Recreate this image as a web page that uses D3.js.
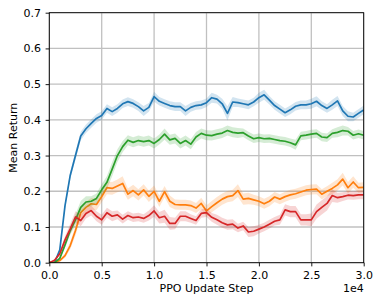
<!DOCTYPE html>
<html>
<head>
<meta charset="utf-8">
<script src="https://cdn.jsdelivr.net/npm/d3@7"></script>
<style>
  body { margin: 0; background: #fff; }
  text { font-family: "DejaVu Sans", sans-serif; }
</style>
</head>
<body>
<div id="chart"></div>
<script>
(function(){

  // PPO update steps, every 500
  var steps = [0,500,1000,1500,2000,2500,3000,3500,4000,4500,5000,5500,6000,6500,7000,7500,8000,8500,9000,9500,
    10000,10500,11000,11500,12000,12500,13000,13500,14000,14500,15000,15500,16000,16500,17000,17500,18000,18500,19000,19500,
    20000,20500,21000,21500,22000,22500,23000,23500,24000,24500,25000,25500,26000,26500,27000,27500,28000,28500,29000,29500,30000];

  var blue = [0,0,0.036,0.16,0.245,0.30,0.355,0.375,0.39,0.404,0.412,0.432,0.423,0.432,0.445,0.451,0.446,0.437,0.425,0.435,
    0.465,0.452,0.446,0.44,0.437,0.437,0.425,0.435,0.44,0.442,0.448,0.462,0.458,0.445,0.418,0.45,0.448,0.445,0.442,0.45,
    0.462,0.47,0.455,0.44,0.43,0.42,0.428,0.438,0.442,0.442,0.445,0.452,0.44,0.432,0.442,0.453,0.425,0.41,0.408,0.418,0.428];
  var orange = [0,0,0.006,0.02,0.048,0.09,0.14,0.155,0.165,0.163,0.185,0.21,0.208,0.215,0.222,0.192,0.202,0.19,0.204,0.186,
    0.2,0.172,0.199,0.172,0.163,0.162,0.162,0.16,0.153,0.166,0.145,0.157,0.168,0.178,0.185,0.188,0.202,0.178,0.18,0.176,
    0.172,0.165,0.172,0.184,0.178,0.185,0.19,0.193,0.198,0.203,0.205,0.206,0.192,0.2,0.208,0.218,0.234,0.21,0.226,0.21,0.211];
  var green = [0,0,0.012,0.05,0.09,0.12,0.155,0.17,0.172,0.18,0.204,0.225,0.262,0.3,0.325,0.343,0.337,0.342,0.339,0.342,
    0.334,0.345,0.36,0.344,0.348,0.334,0.342,0.332,0.352,0.362,0.357,0.356,0.36,0.363,0.37,0.365,0.363,0.364,0.355,0.347,
    0.35,0.347,0.348,0.345,0.342,0.34,0.336,0.33,0.355,0.357,0.36,0.362,0.352,0.35,0.362,0.365,0.37,0.368,0.357,0.361,0.357];
  var red = [0,0.007,0.025,0.064,0.095,0.128,0.118,0.138,0.146,0.13,0.12,0.14,0.13,0.134,0.122,0.132,0.126,0.128,0.124,0.132,
    0.145,0.126,0.13,0.11,0.11,0.13,0.13,0.124,0.118,0.138,0.14,0.127,0.12,0.112,0.106,0.108,0.097,0.103,0.086,0.088,
    0.094,0.1,0.108,0.116,0.12,0.148,0.143,0.143,0.12,0.12,0.12,0.143,0.155,0.166,0.188,0.182,0.185,0.189,0.188,0.19,0.19];

  // half-width of the shaded band
  var blueBand = [0,0,0.004,0.008,0.01,0.012,0.012,0.012,0.012,0.012,0.012,0.012,0.012,0.012,0.012,0.012,0.012,0.012,0.014,0.012,
    0.014,0.012,0.012,0.012,0.012,0.012,0.014,0.012,0.012,0.012,0.012,0.014,0.012,0.014,0.02,0.014,0.012,0.012,0.012,0.012,
    0.014,0.014,0.012,0.012,0.012,0.012,0.012,0.012,0.012,0.012,0.014,0.014,0.012,0.012,0.014,0.014,0.014,0.014,0.012,0.012,0.012];
  var orangeBand = [0,0,0.003,0.006,0.01,0.014,0.016,0.016,0.016,0.016,0.016,0.018,0.018,0.018,0.02,0.016,0.016,0.016,0.016,0.016,
    0.016,0.016,0.016,0.016,0.014,0.014,0.014,0.014,0.014,0.016,0.016,0.016,0.016,0.016,0.016,0.016,0.018,0.016,0.016,0.014,
    0.014,0.014,0.014,0.014,0.014,0.014,0.014,0.014,0.014,0.014,0.014,0.014,0.014,0.014,0.016,0.016,0.018,0.016,0.016,0.014,0.014];
  var greenBand = [0,0,0.004,0.008,0.012,0.016,0.018,0.016,0.014,0.014,0.016,0.018,0.02,0.018,0.016,0.014,0.014,0.014,0.014,0.014,
    0.014,0.014,0.016,0.014,0.014,0.014,0.014,0.014,0.014,0.014,0.014,0.014,0.014,0.014,0.014,0.014,0.014,0.012,0.012,0.012,
    0.012,0.012,0.012,0.012,0.012,0.012,0.012,0.014,0.012,0.012,0.012,0.012,0.012,0.012,0.012,0.014,0.014,0.012,0.012,0.012,0.012];
  var redBand = [0,0.003,0.006,0.01,0.014,0.016,0.016,0.014,0.014,0.014,0.014,0.014,0.014,0.012,0.012,0.012,0.012,0.012,0.012,0.014,
    0.016,0.016,0.018,0.018,0.016,0.014,0.014,0.012,0.012,0.012,0.012,0.012,0.014,0.014,0.014,0.014,0.012,0.012,0.014,0.014,
    0.012,0.012,0.012,0.012,0.014,0.016,0.016,0.016,0.016,0.016,0.018,0.02,0.02,0.02,0.018,0.014,0.012,0.012,0.012,0.012,0.012];

  var xTicks = [0, 5000, 10000, 15000, 20000, 25000, 30000];
  var yTicks = [0, 0.1, 0.2, 0.3, 0.4, 0.5, 0.6, 0.7];

  var series = [
    {name: "blue", values: blue, band: blueBand, color: "#1f77b4"},
    {name: "orange", values: orange, band: orangeBand, color: "#ff7f0e"},
    {name: "green", values: green, band: greenBand, color: "#2ca02c"},
    {name: "red", values: red, band: redBand, color: "#d62728"}
  ];

  var width = 381;
  var height = 305;
  var margin = {top: 12.7, right: 17.3, bottom: 42.3, left: 49.3};
  var innerW = width - margin.left - margin.right;
  var innerH = height - margin.top - margin.bottom;
  var fontSize = 11;

  var svg = d3.select("#chart")
    .append("svg")
    .attr("width", width)
    .attr("height", height);

  var g = svg.append("g")
    .attr("transform", "translate(" + margin.left + "," + margin.top + ")");

  var x = d3.scaleLinear().domain([0, 30000]).range([0, innerW]);
  var y = d3.scaleLinear().domain([0, 0.7]).range([innerH, 0]);

  // grid
  g.append("g").selectAll("line")
    .data(xTicks)
    .enter().append("line")
    .attr("x1", function(d){ return x(d); })
    .attr("x2", function(d){ return x(d); })
    .attr("y1", 0).attr("y2", innerH)
    .attr("stroke", "#c0c0c0").attr("stroke-width", 1.3);
  g.append("g").selectAll("line")
    .data(yTicks)
    .enter().append("line")
    .attr("y1", function(d){ return y(d); })
    .attr("y2", function(d){ return y(d); })
    .attr("x1", 0).attr("x2", innerW)
    .attr("stroke", "#c0c0c0").attr("stroke-width", 1.3);

  var area = d3.area()
    .x(function(d, i){ return x(steps[i]); })
    .y0(function(d){ return y(Math.max(0, d[0] - d[1])); })
    .y1(function(d){ return y(d[0] + d[1]); });

  var line = d3.line()
    .x(function(d, i){ return x(steps[i]); })
    .y(function(d){ return y(d); });

  svg.append("clipPath").attr("id", "plotclip")
    .append("rect").attr("width", innerW).attr("height", innerH);

  var plot = g.append("g").attr("clip-path", "url(#plotclip)");

  series.forEach(function(s){
    plot.append("path")
      .datum(s.values.map(function(v, i){ return [v, s.band[i]]; }))
      .attr("d", area)
      .attr("fill", s.color)
      .attr("fill-opacity", 0.2);
    plot.append("path")
      .datum(s.values)
      .attr("d", line)
      .attr("fill", "none")
      .attr("stroke", s.color)
      .attr("stroke-width", 1.7)
      .attr("stroke-linejoin", "round");
  });

  // axes
  var xAxis = d3.axisBottom(x)
    .tickValues(xTicks)
    .tickSize(3.7)
    .tickPadding(4.8)
    .tickFormat(function(d){ return (d / 10000).toFixed(1); });
  var yAxis = d3.axisLeft(y)
    .tickValues(yTicks)
    .tickSize(3.7)
    .tickPadding(4.6)
    .tickFormat(d3.format(".1f"));

  var gx = g.append("g")
    .attr("transform", "translate(0," + innerH + ")")
    .call(xAxis);
  var gy = g.append("g").call(yAxis);

  [gx, gy].forEach(function(a){
    a.select(".domain").remove();
    a.selectAll("text").attr("font-size", fontSize).attr("fill", "#000")
      .style("font-family", "'DejaVu Sans', sans-serif");
    a.selectAll("line").attr("stroke", "#000").attr("stroke-width", 0.9);
  });

  // frame
  g.append("rect")
    .attr("width", innerW).attr("height", innerH)
    .attr("fill", "none").attr("stroke", "#000").attr("stroke-width", 0.9);

  svg.append("text")
    .attr("x", margin.left + innerW / 2)
    .attr("y", 292)
    .attr("text-anchor", "middle")
    .attr("font-size", fontSize)
    .text("PPO Update Step");

  svg.append("text")
    .attr("x", margin.left + innerW)
    .attr("y", 292)
    .attr("text-anchor", "end")
    .attr("font-size", fontSize)
    .text("1e4");

  svg.append("text")
    .attr("transform", "translate(17," + (margin.top + innerH / 2) + ") rotate(-90)")
    .attr("text-anchor", "middle")
    .attr("font-size", fontSize)
    .text("Mean Return");

})();
</script>
</body>
</html>
